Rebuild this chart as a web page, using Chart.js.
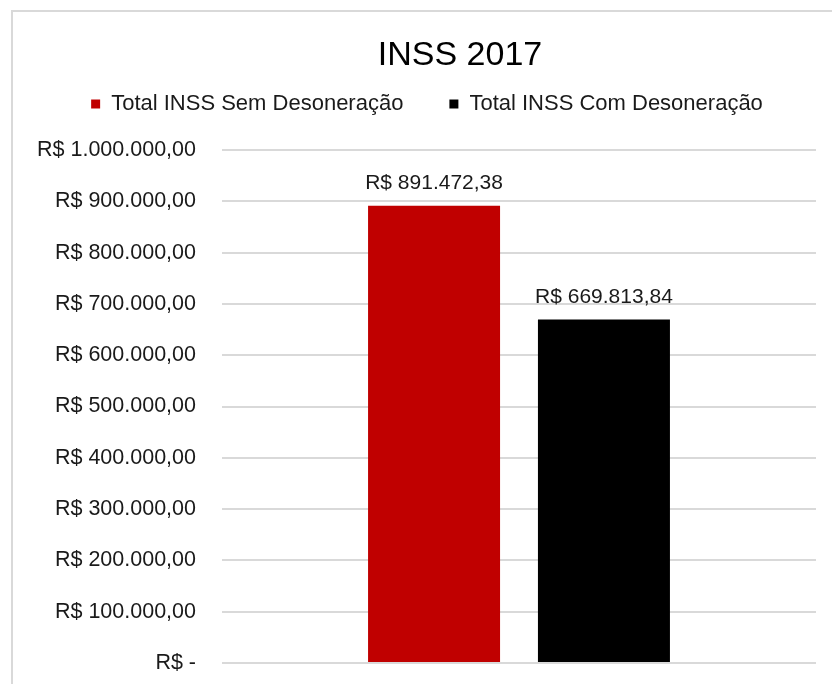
<!DOCTYPE html>
<html>
<head>
<meta charset="utf-8">
<script src="https://cdn.jsdelivr.net/npm/chart.js@4"></script>
<style>
  html, body { margin: 0; padding: 0; background: #fff; overflow: hidden; }
  #frame {
    position: absolute; left: 11px; top: 10px; width: 900px; height: 800px;
    border-left: 2px solid #d9d9d9; border-top: 2px solid #d9d9d9;
  }
  #inssChart { position: absolute; left: 0; top: 0; }
</style>
</head>
<body>
<div id="frame"></div>
<canvas id="inssChart" width="832" height="684"></canvas>
<script>
const TITLE = 'INSS 2017';
const categories = ['2017'];
const seriesNames = ['Total INSS Sem Desoneração', 'Total INSS Com Desoneração'];
const semDesoneracao = [891472.38];
const comDesoneracao = [669813.84];
const seriesColors = ['#c00000', '#000000'];
const yMin = 0;
const yMax = 1000000;
const yStep = 100000;

const FONT = "'Liberation Sans', Arial, sans-serif";
const TEXT_COLOR = '#1a1a1a';

function brl(v) {
    if (v === 0) return 'R$ -';
    let parts = v.toFixed(2).split('.');
    return 'R$ ' + parts[0].replace(/\B(?=(\d{3})+(?!\d))/g, '.') + ',' + parts[1];
}

// title drawn off-centre like the original sheet
let titlePlugin = {
    id: 'sheetTitle',
    afterDraw(chart) {
        let ctx = chart.ctx;
        ctx.save();
        ctx.font = '34px ' + FONT;
        ctx.fillStyle = '#000';
        ctx.textAlign = 'center';
        ctx.textBaseline = 'middle';
        ctx.fillText(TITLE, 460, 56);
        ctx.restore();
    },
};

// value labels above each bar
let valueLabels = {
    id: 'valueLabels',
    afterDatasetsDraw(chart) {
        let ctx = chart.ctx;
        ctx.save();
        ctx.font = '21px ' + FONT;
        ctx.fillStyle = TEXT_COLOR;
        ctx.textAlign = 'center';
        ctx.textBaseline = 'middle';
        chart.data.datasets.forEach((ds, i) => {
            chart.getDatasetMeta(i).data.forEach((bar, j) => {
                ctx.fillText(brl(ds.data[j]), bar.x, bar.y - 22);
            });
        });
        ctx.restore();
    },
};

let config = {
    type: 'bar',
    data: {
        labels: categories,
        datasets: [
            { label: seriesNames[0], data: semDesoneracao, backgroundColor: seriesColors[0] },
            { label: seriesNames[1], data: comDesoneracao, backgroundColor: seriesColors[1] },
        ],
    },
    options: {
        responsive: false,
        animation: false,
        categoryPercentage: 0.572,
        barPercentage: 0.777,
        layout: {
            padding: { left: 38, right: 16, top: 47, bottom: 21 },
        },
        plugins: {
            title: { display: false },
            tooltip: { enabled: false },
            legend: {
                position: 'top',
                labels: {
                    boxWidth: 9,
                    boxHeight: 9,
                    padding: 46,
                    color: TEXT_COLOR,
                    font: { family: FONT, size: 22 },
                },
            },
        },
        scales: {
            x: {
                position: 'top',
                grid: { display: false },
                border: { display: false },
                ticks: { display: false },
                afterFit(scale) { scale.height = 25; },
            },
            y: {
                min: yMin,
                max: yMax,
                ticks: {
                    stepSize: yStep,
                    padding: 26,
                    color: TEXT_COLOR,
                    font: { family: FONT, size: 21.5 },
                    callback: (v) => brl(v),
                },
                grid: { color: '#d9d9d9', lineWidth: 2, drawTicks: false },
                border: { display: false },
                afterFit(scale) {
                    scale.width = 184;
                    scale.paddingTop = 0;
                    scale.paddingBottom = 0;
                },
            },
        },
    },
    plugins: [titlePlugin, valueLabels],
};

let inssChart = new Chart(document.getElementById('inssChart'), config);
</script>
</body>
</html>
